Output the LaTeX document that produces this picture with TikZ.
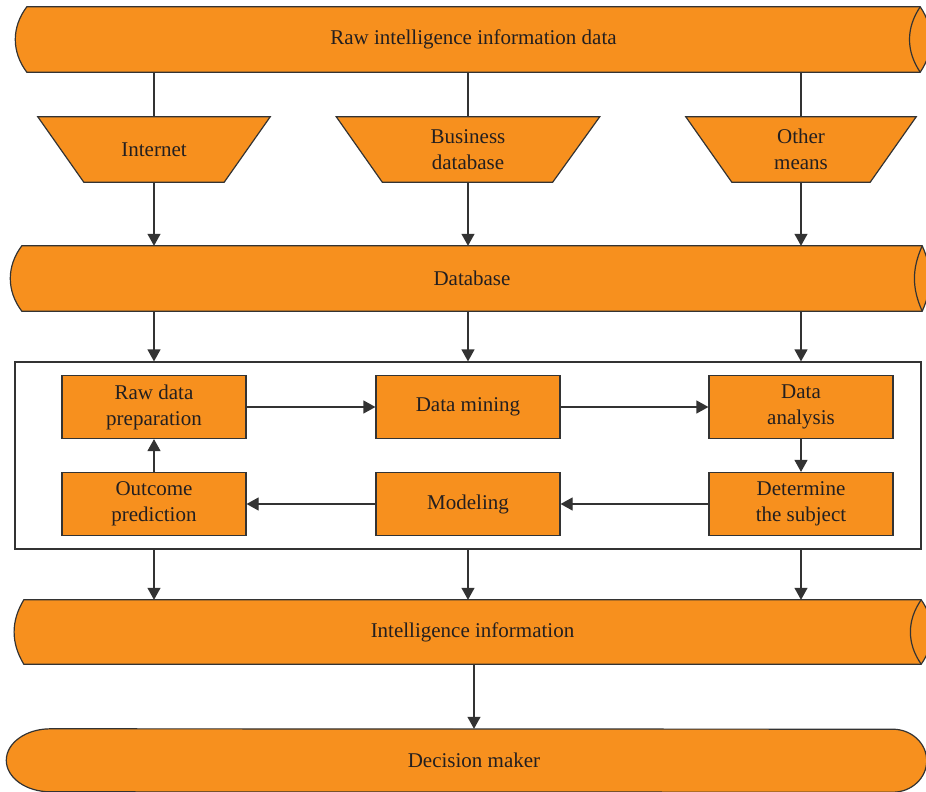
\documentclass[tikz,border=0pt]{standalone}
\usepackage{fontspec}
\setmainfont{Liberation Serif}
\usetikzlibrary{arrows.meta,backgrounds}
\definecolor{orng}{HTML}{F7901E}
\definecolor{edge}{HTML}{333333}
\definecolor{txt}{HTML}{231F20}
\begin{document}
\begin{tikzpicture}[x=1pt,y=1pt,
  lbl/.style={inner sep=0pt,text=txt,align=center,font=\fontsize{21}{26}\selectfont},
  shapefill/.style={fill=orng,draw=edge,line width=1.2pt},
  procbox/.style={lbl,fill=orng,draw=edge,line width=1.2pt,minimum width=184pt,minimum height=63pt},
  arr/.style={draw=edge,line width=1.2pt,-{Triangle[width=13pt,length=12pt]}},
  ln/.style={draw=edge,line width=1.2pt}]
\clip (0,0) rectangle (926,-792);
\useasboundingbox (0,0) rectangle (926,-792);

% banner nodes (cylinders)
\node[lbl,minimum width=893pt,minimum height=65pt] (raw) at (473.5,-39.5) {Raw intelligence information data};
\node[lbl,minimum width=900pt,minimum height=65pt] (db) at (472,-278.5) {Database};
\node[lbl,minimum width=897pt,minimum height=64pt] (intel) at (472.5,-632) {Intelligence information};
\node[lbl,minimum width=847pt,minimum height=63pt] (dec) at (474,-760.5) {Decision maker};

% trapezium nodes
\node[lbl,minimum width=232pt,minimum height=65pt] (inet) at (154,-149.5) {Internet};
\node[lbl,minimum width=263pt,minimum height=65pt] (bdb) at (468,-149.5) {Business\\database};
\node[lbl,minimum width=230pt,minimum height=65pt] (oth) at (801,-149.5) {Other\\means};

% process frame
\node[draw=edge,line width=1.2pt,minimum width=906pt,minimum height=187pt,inner sep=0pt] (proc) at (468,-455.5) {};

% process boxes
\node[procbox] (rdp) at (154,-407) {Raw data\\preparation};
\node[procbox] (dm) at (468,-407) {Data mining};
\node[procbox] (da) at (801,-407) {Data\\analysis};
\node[procbox] (op) at (154,-504) {Outcome\\prediction};
\node[procbox] (mod) at (468,-504) {Modeling};
\node[procbox] (ds) at (801,-504) {Determine\\the subject};

\begin{scope}[on background layer]
  % cylinders
  \draw[shapefill] (raw.north west) to[bend right=37] (raw.south west) -- (raw.south east) to[bend right=34] (raw.north east) -- cycle;
  \draw[ln] (raw.north east) to[bend right=34] (raw.south east);
  \draw[shapefill] (db.north west) to[bend right=37] (db.south west) -- (db.south east) to[bend right=24] (db.north east) -- cycle;
  \draw[ln] (db.north east) to[bend right=24] (db.south east);
  \draw[shapefill] (intel.north west) to[bend right=31] (intel.south west) -- (intel.south east) to[bend right=35] (intel.north east) -- cycle;
  \draw[ln] (intel.north east) to[bend right=35] (intel.south east);
  % decision stadium
  \draw[shapefill] (dec.north west) arc[start angle=90,end angle=270,x radius=44pt,y radius=31.5pt]
     -- ([xshift=-5pt]dec.south east) arc[start angle=-90,end angle=90,x radius=34pt,y radius=31.5pt] -- cycle;
  % trapezia
  \draw[shapefill] (inet.north west) -- (inet.north east) -- ([xshift=-46pt]inet.south east) -- ([xshift=46pt]inet.south west) -- cycle;
  \draw[shapefill] (bdb.north west) -- (bdb.north east) -- ([xshift=-47pt]bdb.south east) -- ([xshift=46pt]bdb.south west) -- cycle;
  \draw[shapefill] (oth.north west) -- (oth.north east) -- ([xshift=-46pt]oth.south east) -- ([xshift=46pt]oth.south west) -- cycle;
\end{scope}

% connectors top
\draw[ln] (raw.south -| inet.north) -- (inet.north);
\draw[ln] (raw.south -| bdb.north) -- (bdb.north);
\draw[ln] (raw.south -| oth.north) -- (oth.north);
\draw[arr] (inet.south) -- (db.north -| inet.south);
\draw[arr] (bdb.south) -- (db.north -| bdb.south);
\draw[arr] (oth.south) -- (db.north -| oth.south);
% database to process frame
\draw[arr] (db.south -| rdp.north) -- (proc.north -| rdp.north);
\draw[arr] (db.south -| dm.north) -- (proc.north -| dm.north);
\draw[arr] (db.south -| da.north) -- (proc.north -| da.north);
% inner flow
\draw[arr] (rdp.east) -- (dm.west);
\draw[arr] (dm.east) -- (da.west);
\draw[arr] (da.south) -- (ds.north);
\draw[arr] (ds.west) -- (mod.east);
\draw[arr] (mod.west) -- (op.east);
\draw[arr] (op.north) -- (rdp.south);
% process frame to intelligence
\draw[arr] (proc.south -| op.south) -- (intel.north -| op.south);
\draw[arr] (proc.south -| mod.south) -- (intel.north -| mod.south);
\draw[arr] (proc.south -| ds.south) -- (intel.north -| ds.south);
% intelligence to decision
\draw[arr] (intel.south -| dec.north) -- (dec.north);
\end{tikzpicture}
\end{document}
